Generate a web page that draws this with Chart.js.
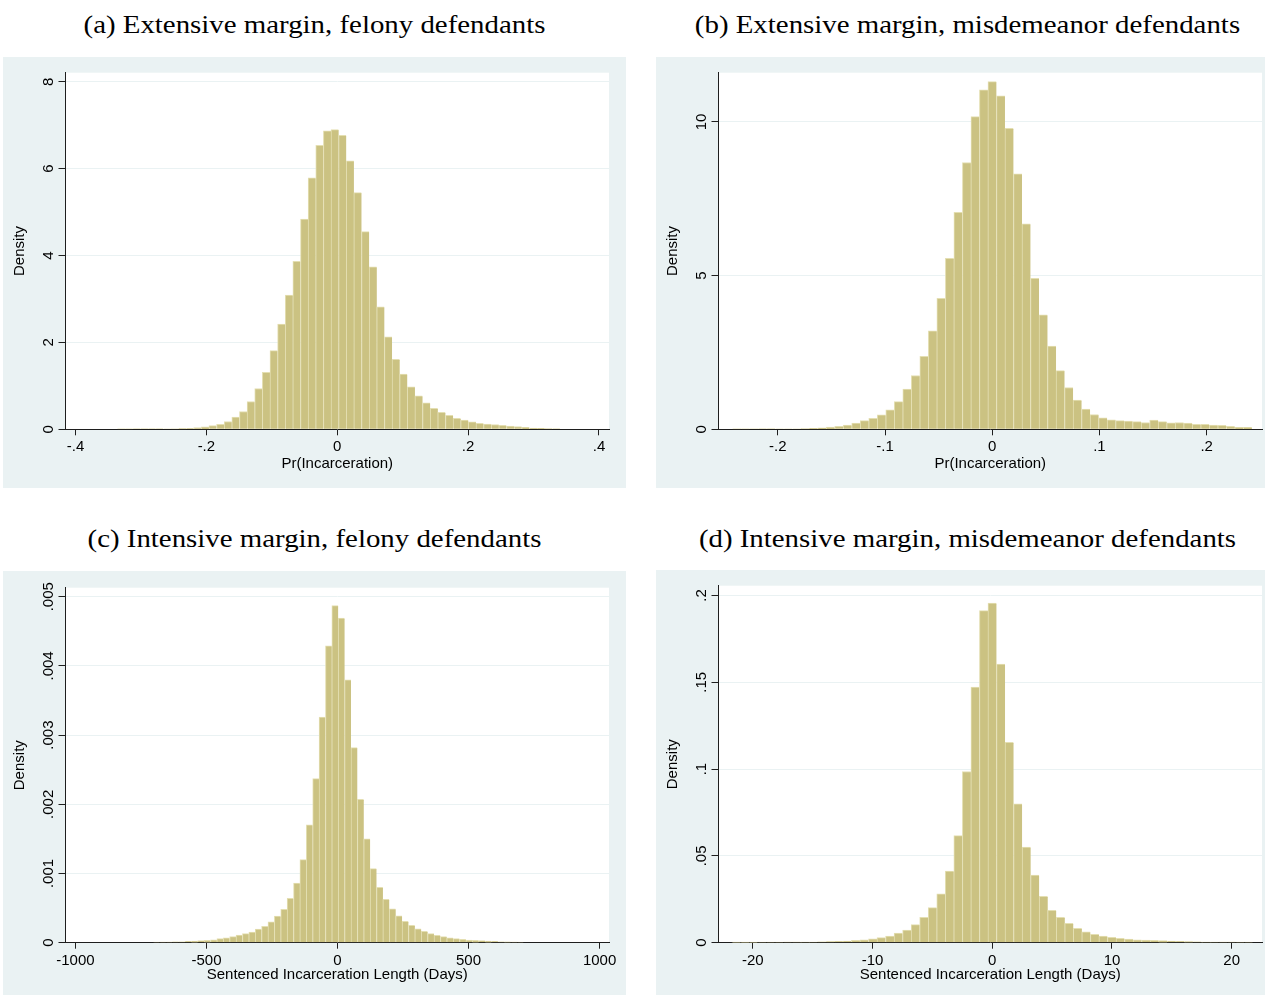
<!DOCTYPE html>
<html>
<head>
<meta charset="utf-8">
<script src="https://cdn.jsdelivr.net/npm/chart.js@4.4.1/dist/chart.umd.min.js"></script>
<style>
  html, body { margin: 0; padding: 0; background: #fff; }
  #page { position: relative; width: 1265px; height: 995px; overflow: hidden; background: #fff; }
  .title { position: absolute; width: 623px; text-align: center; font-family: "Liberation Serif", "Times New Roman", serif;
           font-size: 26px; line-height: 26px; color: #000; white-space: nowrap;
           transform: scaleX(1.11); transform-origin: 50% 50%; }
  canvas { position: absolute; }
</style>
</head>
<body>
<div id="page">
  <div class="title" style="left:3px; top:12px">(a) Extensive margin, felony defendants</div>
  <div class="title" style="left:656px; top:12px">(b) Extensive margin, misdemeanor defendants</div>
  <div class="title" style="left:3px; top:526px">(c) Intensive margin, felony defendants</div>
  <div class="title" style="left:656px; top:526px">(d) Intensive margin, misdemeanor defendants</div>
  <canvas id="chartA" width="623" height="431" style="left:3px; top:57px"></canvas>
  <canvas id="chartB" width="623" height="431" style="left:656px; top:57px"></canvas>
  <canvas id="chartC" width="623" height="424" style="left:3px; top:571px"></canvas>
  <canvas id="chartD" width="623" height="425" style="left:656px; top:570px"></canvas>
</div>
<script>
"use strict";

// (a) Pr(Incarceration), felony defendants: 58 bins
var felExtBinStart = -0.336;
var felExtBinWidth = 0.01166;
var felExtDensity = [
  0.004, 0.004, 0.005, 0.005, 0.006, 0.008, 0.010, 0.013, 0.018, 0.025,
  0.038, 0.054, 0.084, 0.115, 0.18, 0.28, 0.41, 0.64, 0.94, 1.31,
  1.81, 2.42, 3.09, 3.87, 4.84, 5.79, 6.54, 6.87, 6.90, 6.77,
  6.18, 5.45, 4.55, 3.74, 2.82, 2.13, 1.61, 1.27, 0.98, 0.77,
  0.61, 0.48, 0.39, 0.32, 0.25, 0.21, 0.17, 0.14, 0.12, 0.11,
  0.09, 0.077, 0.06, 0.046, 0.03, 0.023, 0.015, 0.008
];
var felExtXTicks = [-0.4, -0.2, 0, 0.2, 0.4];
var felExtXLabels = ["-.4", "-.2", "0", ".2", ".4"];
var felExtYTicks = [0, 2, 4, 6, 8];
var felExtYLabels = ["0", "2", "4", "6", "8"];

// (b) Pr(Incarceration), misdemeanor defendants: 61 bins
var misExtBinStart = -0.2422;
var misExtBinWidth = 0.00794;
var misExtDensity = [
  0.004, 0.005, 0.006, 0.008, 0.012, 0.015, 0.014, 0.015, 0.02, 0.03,
  0.05, 0.07, 0.10, 0.14, 0.20, 0.28, 0.36, 0.47, 0.63, 0.90,
  1.31, 1.75, 2.37, 3.20, 4.26, 5.56, 7.06, 8.68, 10.17, 11.04,
  11.31, 10.85, 9.79, 8.31, 6.68, 4.91, 3.72, 2.71, 1.91, 1.36,
  0.95, 0.66, 0.48, 0.37, 0.31, 0.28, 0.27, 0.25, 0.22, 0.30,
  0.25, 0.21, 0.22, 0.20, 0.16, 0.16, 0.14, 0.13, 0.10, 0.065,
  0.065
];
var misExtXTicks = [-0.2, -0.1, 0, 0.1, 0.2];
var misExtXLabels = ["-.2", "-.1", "0", ".1", ".2"];
var misExtYTicks = [0, 5, 10];
var misExtYLabels = ["0", "5", "10"];

// (c) Sentenced days, felony defendants: 58 bins
var felIntBinStart = -704;
var felIntBinWidth = 24.37;
var felIntDensity = [
  0.000007, 0.00001, 0.00001, 0.000014, 0.000014, 0.000019, 0.000024, 0.000029, 0.000034, 0.000043,
  0.000058, 0.000072, 0.000087, 0.000111, 0.00013, 0.000154, 0.000197, 0.000236, 0.000303, 0.000385,
  0.000482, 0.000641, 0.000862, 0.0012, 0.001705, 0.00237, 0.00326, 0.00429, 0.00487, 0.00469,
  0.0038, 0.00282, 0.00207, 0.0015, 0.00107, 0.0008, 0.000626, 0.000491, 0.00039, 0.000308,
  0.00025, 0.000202, 0.000164, 0.00013, 0.000106, 0.000087, 0.000072, 0.000058, 0.000048, 0.000039,
  0.000034, 0.000029, 0.000024, 0.000019, 0.000014, 0.000012, 0.00001, 0.000007
];
var felIntXTicks = [-1000, -500, 0, 500, 1000];
var felIntXLabels = ["-1000", "-500", "0", "500", "1000"];
var felIntYTicks = [0, 0.001, 0.002, 0.003, 0.004, 0.005];
var felIntYLabels = ["0", ".001", ".002", ".003", ".004", ".005"];

// (d) Sentenced days, misdemeanor defendants: 61 bins
var misIntBinStart = -21.75;
var misIntBinWidth = 0.713;
var misIntDensity = [
  0.0001, 0.0001, 0.0001, 0.0002, 0.0002, 0.0002, 0.0003, 0.0003, 0.0004, 0.0004,
  0.0005, 0.0007, 0.0008, 0.001, 0.0013, 0.0017, 0.0023, 0.0029, 0.0038, 0.0056,
  0.0073, 0.0104, 0.0146, 0.0202, 0.0281, 0.0413, 0.0617, 0.0986, 0.1472, 0.1912,
  0.1956, 0.1605, 0.1154, 0.080, 0.0551, 0.039, 0.0267, 0.0186, 0.0146, 0.0111,
  0.0083, 0.0063, 0.0048, 0.0038, 0.0031, 0.0025, 0.0021, 0.0017, 0.0015, 0.0013,
  0.0012, 0.001, 0.0008, 0.0006, 0.0005, 0.0004, 0.0004, 0.0003, 0.0003, 0.0002,
  0.0002
];
var misIntXTicks = [-20, -10, 0, 10, 20];
var misIntXLabels = ["-20", "-10", "0", "10", "20"];
var misIntYTicks = [0, 0.05, 0.1, 0.15, 0.2];
var misIntYLabels = ["0", ".05", ".1", ".15", ".2"];

var BG = "rgb(234,242,243)";
var GRID = "rgb(234,242,243)";
var AXIS = "#1e1e1e";
var BAR_FILL = "rgb(203,194,130)";
var BAR_EDGE = "rgb(228,223,178)";
var SANS = "'Liberation Sans', Arial, Helvetica, sans-serif";

// histogram bars sit at bin centres
function binPoints(start, width, density) {
  return density.map(function(d, i) {
    return { x: start + width * (i + 0.5), y: d };
  });
}

var panelBackground = {
  id: "panelBackground",
  beforeDraw: function(chart) {
    var ctx = chart.ctx, a = chart.chartArea;
    ctx.save();
    ctx.fillStyle = BG;
    ctx.fillRect(0, 0, chart.width, chart.height);
    ctx.fillStyle = "#fff";
    ctx.fillRect(a.left, a.top, a.right - a.left, a.bottom - a.top);
    ctx.restore();
  }
};

// Stata draws y tick labels turned on their side
var rotatedYLabels = {
  id: "rotatedYLabels",
  afterDraw: function(chart, args, opts) {
    var s = chart.scales.y, ctx = chart.ctx;
    ctx.save();
    ctx.font = "15px " + SANS;
    ctx.fillStyle = "#000";
    ctx.textAlign = "center";
    ctx.textBaseline = "alphabetic";
    s.ticks.forEach(function(t, i) {
      ctx.save();
      ctx.translate(s.right - 12.5, s.getPixelForValue(t.value));
      ctx.rotate(-Math.PI / 2);
      ctx.fillText(opts.labels[i], 0, 0);
      ctx.restore();
    });
    ctx.restore();
  }
};

function makeHistogram(id, p) {
  var ctx = document.getElementById(id).getContext("2d");
  return new Chart(ctx, {
    type: "bar",
    data: {
      datasets: [{
        data: binPoints(p.binStart, p.binWidth, p.density),
        backgroundColor: BAR_FILL,
        borderColor: BAR_EDGE,
        borderWidth: { top: 1, left: 1, right: 0, bottom: 0 },
        borderSkipped: false,
        barPercentage: 1,
        categoryPercentage: 1
      }]
    },
    options: {
      responsive: false,
      animation: false,
      devicePixelRatio: 1,
      layout: { padding: { top: p.top, right: 17, bottom: 0, left: 0 } },
      plugins: {
        legend: { display: false },
        tooltip: { enabled: false },
        rotatedYLabels: { labels: p.yLabels }
      },
      scales: {
        x: {
          type: "linear",
          min: p.xMin,
          max: p.xMax,
          offset: false,
          z: 1,
          afterBuildTicks: function(s) { s.ticks = p.xTicks.map(function(v) { return { value: v }; }); },
          afterFit: function(s) { s.height = p.xAxisHeight; },
          ticks: {
            autoSkip: false,
            maxRotation: 0,
            padding: 3,
            color: "#000",
            font: { family: SANS, size: 15 },
            callback: function(v, i) { return p.xLabels[i]; }
          },
          grid: { drawOnChartArea: false, offset: false, tickLength: 6, tickColor: AXIS },
          border: { color: AXIS, width: 1 },
          title: {
            display: true,
            text: p.xTitle,
            color: "#000",
            font: { family: SANS, size: 15 },
            padding: { top: 0, bottom: p.xTitlePad }
          }
        },
        y: {
          min: 0,
          max: p.yMax,
          afterBuildTicks: function(s) { s.ticks = p.yTicks.map(function(v) { return { value: v }; }); },
          afterFit: function(s) { s.width = 62.5; },
          ticks: { display: false },
          grid: {
            color: function(c) { return c.tick && c.tick.value === 0 ? "rgba(0,0,0,0)" : GRID; },
            tickColor: AXIS,
            tickLength: 7
          },
          border: { color: AXIS, width: 1 },
          title: {
            display: true,
            text: "Density",
            color: "#000",
            font: { family: SANS, size: 15 },
            padding: { top: 7.5, bottom: 0 }
          }
        }
      }
    },
    plugins: [panelBackground, rotatedYLabels]
  });
}

makeHistogram("chartA", {
  binStart: felExtBinStart, binWidth: felExtBinWidth, density: felExtDensity,
  xTicks: felExtXTicks, xLabels: felExtXLabels, yTicks: felExtYTicks, yLabels: felExtYLabels,
  xMin: -0.4153, xMax: 0.4153, yMax: 8.21,
  top: 15.7, xAxisHeight: 58.7, xTitlePad: 15, xTitle: "Pr(Incarceration)"
});
makeHistogram("chartB", {
  binStart: misExtBinStart, binWidth: misExtBinWidth, density: misExtDensity,
  xTicks: misExtXTicks, xLabels: misExtXLabels, yTicks: misExtYTicks, yLabels: misExtYLabels,
  xMin: -0.2553, xMax: 0.2516, yMax: 11.6,
  top: 15.7, xAxisHeight: 58.7, xTitlePad: 15, xTitle: "Pr(Incarceration)"
});
makeHistogram("chartC", {
  binStart: felIntBinStart, binWidth: felIntBinWidth, density: felIntDensity,
  xTicks: felIntXTicks, xLabels: felIntXLabels, yTicks: felIntYTicks, yLabels: felIntYLabels,
  xMin: -1038, xMax: 1036, yMax: 0.00513,
  top: 16.7, xAxisHeight: 52.3, xTitlePad: 11, xTitle: "Sentenced Incarceration Length (Days)"
});
makeHistogram("chartD", {
  binStart: misIntBinStart, binWidth: misIntBinWidth, density: misIntDensity,
  xTicks: misIntXTicks, xLabels: misIntXLabels, yTicks: misIntYTicks, yLabels: misIntYLabels,
  xMin: -22.87, xMax: 22.53, yMax: 0.2056,
  top: 15.7, xAxisHeight: 52.3, xTitlePad: 11, xTitle: "Sentenced Incarceration Length (Days)"
});
</script>
</body>
</html>
